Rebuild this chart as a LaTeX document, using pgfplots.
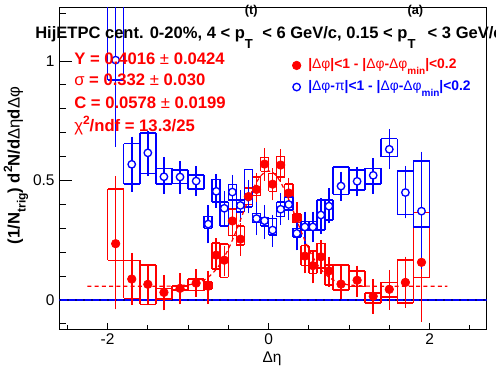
\documentclass[border=0pt]{standalone}
\usepackage{fontspec}
\setmainfont{Liberation Sans}
\usepackage{pgfplots}
\pgfplotsset{compat=1.18}
\usepackage{pgfplotstable}

\definecolor{rred}{RGB}{255,0,0}
\definecolor{rblue}{RGB}{0,0,255}
\definecolor{rnavy}{RGB}{0,0,140}

% x y err+ err- syst-low syst-high half-width
\pgfplotstableread{
x y ep em lo hi w
-1.9 0.236 0.268 0.260 0.166 0.464 0.1
-1.7 0.088 0.095 0.095 0.007 0.166 0.1
-1.5 0.066 0.069 0.073 -0.018 0.146 0.1
-1.3 0.032 0.059 0.061 0.005 0.049 0.1
-1.1 0.049 0.049 0.052 0.042 0.059 0.1
-0.9 0.071 0.043 0.043 0.040 0.087 0.1
-0.75 0.058 0.051 0.060 0.045 0.075 0.05
-0.65 0.188 0.056 0.049 0.130 0.240 0.05
-0.55 0.167 0.045 0.053 0.095 0.235 0.05
-0.45 0.331 0.055 0.063 0.270 0.380 0.05
-0.35 0.255 0.052 0.055 0.230 0.310 0.05
-0.25 0.433 0.055 0.052 0.400 0.470 0.05
-0.15 0.463 0.053 0.056 0.438 0.516 0.05
-0.05 0.569 0.052 0.056 0.538 0.597 0.05
0.05 0.485 0.052 0.053 0.455 0.530 0.05
0.15 0.565 0.051 0.056 0.515 0.601 0.05
0.25 0.448 0.047 0.053 0.431 0.485 0.05
0.35 0.343 0.052 0.060 0.324 0.360 0.05
0.45 0.184 0.063 0.058 0.145 0.228 0.05
0.55 0.144 0.044 0.060 0.112 0.206 0.05
0.65 0.181 0.056 0.058 0.133 0.237 0.05
0.75 0.122 0.045 0.052 0.063 0.146 0.05
0.9 0.067 0.066 0.046 0.042 0.146 0.1
1.1 0.083 0.047 0.055 0.056 0.121 0.1
1.3 0.016 0.056 0.058 -0.011 0.030 0.1
1.5 0.045 0.067 0.070 0.014 0.074 0.1
1.7 0.074 0.093 0.091 -0.012 0.167 0.1
1.9 0.158 0.209 0.234 0.095 0.367 0.1
}\redtab

\pgfplotstableread{
x y ep em lo hi w
-1.9 1.004 0.230 0.348 0.920 1.234 0.1
-1.7 0.568 0.101 0.101 0.486 0.655 0.1
-1.5 0.616 0.077 0.083 0.530 0.700 0.1
-1.3 0.516 0.067 0.056 0.486 0.551 0.1
-1.1 0.515 0.053 0.055 0.488 0.544 0.1
-0.9 0.498 0.048 0.046 0.464 0.523 0.1
-0.75 0.318 0.065 0.066 0.300 0.350 0.05
-0.65 0.455 0.056 0.055 0.410 0.505 0.05
-0.55 0.384 0.057 0.056 0.310 0.411 0.05
-0.45 0.452 0.057 0.055 0.418 0.484 0.05
-0.35 0.396 0.050 0.054 0.369 0.418 0.05
-0.25 0.432 0.055 0.055 0.390 0.547 0.05
-0.15 0.341 0.056 0.055 0.324 0.363 0.05
-0.05 0.332 0.052 0.060 0.310 0.344 0.05
0.05 0.293 0.049 0.056 0.272 0.342 0.05
0.15 0.380 0.052 0.052 0.349 0.411 0.05
0.25 0.400 0.053 0.051 0.377 0.432 0.05
0.35 0.279 0.049 0.056 0.265 0.300 0.05
0.45 0.306 0.050 0.055 0.293 0.328 0.05
0.55 0.306 0.050 0.050 0.293 0.328 0.05
0.65 0.356 0.055 0.063 0.293 0.418 0.05
0.75 0.393 0.060 0.058 0.335 0.418 0.05
0.9 0.477 0.046 0.047 0.442 0.558 0.1
1.1 0.497 0.047 0.048 0.460 0.544 0.1
1.3 0.522 0.057 0.062 0.485 0.551 0.1
1.5 0.631 0.069 0.070 0.600 0.676 0.1
1.7 0.450 0.097 0.094 0.358 0.541 0.1
1.9 0.372 0.235 0.228 0.307 0.583 0.1
}\bluetab

% fitted curve (Gaussian + constant)
\pgfplotstableread{
x f
-2.25 0.0578
-1.5 0.0578
-1.2 0.0585
-1.0 0.0630
-0.9 0.0700
-0.8 0.0843
-0.75 0.0954
-0.7 0.1100
-0.65 0.1288
-0.6 0.1520
-0.55 0.1801
-0.5 0.2130
-0.45 0.2504
-0.4 0.2910
-0.35 0.3347
-0.3 0.3790
-0.25 0.4213
-0.2 0.4600
-0.15 0.4936
-0.1 0.5190
-0.05 0.5350
0 0.5404
0.05 0.5350
0.1 0.5190
0.15 0.4936
0.2 0.4600
0.25 0.4213
0.3 0.3790
0.35 0.3347
0.4 0.2910
0.45 0.2504
0.5 0.2130
0.55 0.1801
0.6 0.1520
0.65 0.1288
0.7 0.1100
0.75 0.0954
0.8 0.0843
0.9 0.0700
1.0 0.0630
1.2 0.0585
1.5 0.0578
2.22 0.0578
}\fittab

\newcommand{\pT}[1]{p\rlap{\raisebox{-7.5pt}{\fontsize{9.8pt}{9pt}\selectfont T}}\raisebox{18pt}{\fontsize{9.6pt}{9pt}\selectfont (#1)}}
\newcommand{\lsub}[1]{\raisebox{-4.5pt}{\fontsize{7.5pt}{8pt}\selectfont #1}}
\newcommand{\gr}[1]{{\mdseries #1}}
\pgfplotsset{
  boxh/.style={forget plot, draw=none, mark=none, line width=1.2pt,
    error bars/.cd, x dir=both, x explicit, error mark=none,
    error bar style={draw=#1, line width=1.2pt, solid}},
  boxv/.style={forget plot, draw=none, mark=none, line width=1.2pt,
    error bars/.cd, y dir=both, y explicit, error mark=none,
    error bar style={draw=#1, line width=1.2pt, solid}},
  staterr/.style={forget plot, draw=none, mark=none, line width=1.2pt,
    error bars/.cd, y dir=both, y explicit, error mark=-,
    error mark options={draw=#1, mark size=2.6pt, line width=1.2pt},
    error bar style={draw=#1, line width=1.2pt, solid}},
  redmk/.style={only marks, mark=*, mark size=3.2pt, mark options={draw=rred, fill=rred, line width=0.5pt}},
  bluemk/.style={only marks, mark=*, mark size=2.8pt, mark options={draw=rblue, fill=white, line width=1pt}},
}

\begin{document}
\begin{tikzpicture}[x=0.75pt,y=-0.75pt]
\path[use as bounding box] (0,0) rectangle (496,374);
\begin{axis}[
  at={(44.475pt,-246.75pt)}, anchor=south west,
  scale only axis, width=320.55pt, height=241.275pt,
  xmin=-2.6, xmax=2.71, ymin=-0.121, ymax=1.225,
  xtick={-2,0,2}, xticklabels={-2,0,2},
  ytick={0,0.5,1}, yticklabels={0,0.5,1},
  minor xtick={-2.5,-1.5,-1,-0.5,0.5,1,1.5,2.5},
  minor ytick={-0.1,0.1,0.2,0.3,0.4,0.6,0.7,0.8,0.9,1.1,1.2},
  tick align=inside, xtick pos=bottom, ytick pos=left,
  axis line style={line width=0.75pt},
  tick style={line width=0.75pt, black},
  xtick style={/pgfplots/major tick length=4.5pt, /pgfplots/minor tick length=2.8pt},
  ytick style={/pgfplots/major tick length=9.75pt, /pgfplots/minor tick length=4.9pt},
  ticklabel style={font=\fontsize{11.6pt}{12pt}\selectfont},
  legend style={at={(0.5407,0.847)}, anchor=north west, draw=none, fill=none,
    font=\fontsize{10.4pt}{12pt}\selectfont\bfseries, row sep=3.2pt, inner sep=0pt,
    nodes={inner sep=1pt, text height=8pt, text depth=3pt}},
  legend cell align=left,
  legend image code/.code={\path[draw=none, fill=none] (0pt,-3pt) rectangle (12.25pt,3pt); \draw[#1,/tikz/only marks] plot coordinates {(4.5pt,0pt)};},
]
% zero line
\addplot[forget plot, rblue, line width=1.1pt] coordinates {(-2.6,0) (2.71,0)};
\addplot[forget plot, rnavy, line width=1.1pt, dash pattern=on 1.2pt off 4.8pt] coordinates {(-2.6,0) (2.71,0)};

% red systematic boxes
\addplot[boxh=rred] table[x=x, y=hi, x error=w] {\redtab};
\addplot[boxh=rred] table[x=x, y=lo, x error=w] {\redtab};
\addplot[boxv=rred] table[x expr=\thisrow{x}-\thisrow{w}, y expr=0.5*(\thisrow{lo}+\thisrow{hi}), y error expr=0.5*(\thisrow{hi}-\thisrow{lo})] {\redtab};
\addplot[boxv=rred] table[x expr=\thisrow{x}+\thisrow{w}, y expr=0.5*(\thisrow{lo}+\thisrow{hi}), y error expr=0.5*(\thisrow{hi}-\thisrow{lo})] {\redtab};
% blue systematic boxes
\addplot[boxh=rblue] table[x=x, y=hi, x error=w] {\bluetab};
\addplot[boxh=rblue] table[x=x, y=lo, x error=w] {\bluetab};
\addplot[boxv=rblue] table[x expr=\thisrow{x}-\thisrow{w}, y expr=0.5*(\thisrow{lo}+\thisrow{hi}), y error expr=0.5*(\thisrow{hi}-\thisrow{lo})] {\bluetab};
\addplot[boxv=rblue] table[x expr=\thisrow{x}+\thisrow{w}, y expr=0.5*(\thisrow{lo}+\thisrow{hi}), y error expr=0.5*(\thisrow{hi}-\thisrow{lo})] {\bluetab};

% statistical error bars
\addplot[staterr=rred] table[x=x, y=y, y error plus=ep, y error minus=em] {\redtab};
\addplot[staterr=rblue] table[x=x, y=y, y error plus=ep, y error minus=em] {\bluetab};

% fit
\addplot[forget plot, rred, line width=0.9pt, dash pattern=on 3pt off 2.4pt] table[x=x, y=f] {\fittab};

% markers (blue first, red on top)
\addplot[bluemk, forget plot] table[x=x, y=y] {\bluetab};
\addplot[redmk] table[x=x, y=y] {\redtab};
\addlegendentry{\textcolor{rred}{|\gr{Δφ}|<1 - |\gr{Δφ}-\gr{Δφ}\lsub{min}|<0.2}}
\addlegendimage{bluemk}
\addlegendentry{\textcolor{rblue}{|\gr{Δφ}-\gr{π}|<1 - |\gr{Δφ}-\gr{Δφ}\lsub{min}|<0.2}}
\end{axis}

% title
\node[anchor=base west, inner sep=0] at (35,38.3) {\fontsize{12.4pt}{14pt}\selectfont\bfseries HijETPC cent. 0-20\%, 4 < \pT{t} < 6 GeV/c, 0.15 < \pT{a} < 3 GeV/c};
% fit results
\begin{scope}[every node/.style={anchor=base west, inner sep=0, text=rred, font=\fontsize{12.5pt}{14pt}\selectfont\bfseries}]
\node at (74,64.3) {Y = 0.4016 \gr{±} 0.0424};
\node at (74,86) {\gr{σ} = 0.332 \gr{±} 0.030};
\node at (74,109) {C = 0.0578 \gr{±} 0.0199};
\node at (74,131.5) {\gr{χ}\raisebox{5.5pt}{\fontsize{9pt}{9pt}\selectfont 2}/ndf = 13.3/25};
\end{scope}
% axis titles
\node[rotate=90, anchor=base, inner sep=0] at (19.5,165.5) {\fontsize{12.5pt}{14pt}\selectfont\bfseries (1/N\raisebox{-4.5pt}{\fontsize{9pt}{9pt}\selectfont trig}) d\raisebox{5.5pt}{\fontsize{9pt}{9pt}\selectfont 2}N/d\gr{Δη}d\gr{Δφ}};
\node[anchor=base, inner sep=0] at (272,362) {\fontsize{11.6pt}{13pt}\selectfont Δη};
\end{tikzpicture}
\end{document}
